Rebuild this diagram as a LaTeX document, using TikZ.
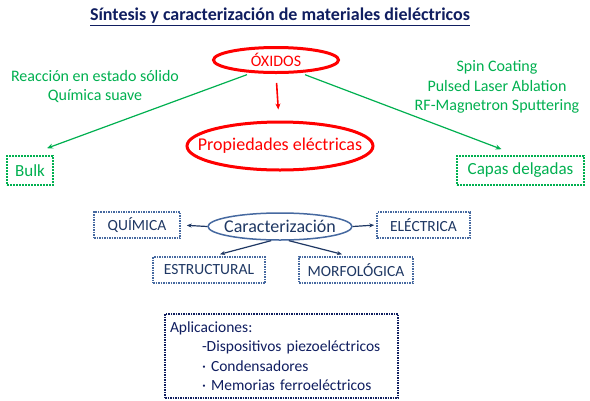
\documentclass[tikz,border=0pt]{standalone}
\usepackage{fontspec}
\setmainfont{Carlito}
\definecolor{titlenavy}{RGB}{16,30,96}
\definecolor{oxgreen}{RGB}{0,176,80}
\definecolor{oxred}{RGB}{255,0,0}
\definecolor{steelnavy}{RGB}{31,56,100}
\definecolor{frameblue}{RGB}{70,105,160}
\usetikzlibrary{shapes.geometric, arrows.meta, positioning}
\tikzset{
  redoval/.style={ellipse, draw=oxred, line width=3pt, text=oxred, inner sep=0pt},
  greenbox/.style={rectangle, draw=oxgreen, line width=1.6pt, dash pattern=on 2pt off 1pt,
    text=oxgreen, font=\fontsize{17}{20}\selectfont, minimum height=29pt, inner sep=0pt},
  techbox/.style={rectangle, draw=frameblue, line width=1.5pt, densely dotted,
    text=steelnavy, font=\fontsize{15.5}{18}\selectfont, minimum height=26pt, inner sep=0pt},
  method/.style={text=oxgreen, font=\fontsize{16}{19.5}\selectfont, align=center},
  greenarrow/.style={-{Stealth[length=6pt,width=5pt]}, line width=1.2pt, color=oxgreen},
  navyarrow/.style={-{Stealth[length=5pt,width=4pt]}, line width=1.2pt, color=steelnavy},
}

\begin{document}
\begin{tikzpicture}[x=1pt, y=-1pt]

\useasboundingbox[fill=white] (0,0) rectangle (590,400);

\node[text=titlenavy, font=\fontsize{18}{21}\selectfont\bfseries] (title) at (280,17)
  {\underline{Síntesis y caracterización de materiales dieléctricos}};

% sintesis
\node[redoval, minimum width=125pt, minimum height=25pt, font=\fontsize{16}{19}\selectfont] (oxidos) at (276,60) {ÓXIDOS};
\node[redoval, minimum width=186pt, minimum height=48pt, font=\fontsize{18}{21}\selectfont] (prop) at (280,146)
  {\makebox[0pt]{Propiedades eléctricas}};

\node[method] (ceramic) at (95,86.5) {Reacción en estado sólido\\Química suave};
\node[method] (thinfilm) at (497,87) {Spin Coating\\Pulsed Laser Ablation\\RF-Magnetron Sputtering};

\node[greenbox, minimum width=46pt] (bulk) at (30,170.5) {Bulk};
\node[greenbox, minimum width=127pt] (capas) at (520.5,170.5) {Capas delgadas};

\draw[greenarrow, shorten <=5pt] (oxidos.208) -- ([xshift=17pt,yshift=7pt]bulk.north);
\draw[greenarrow, shorten <=5pt] (oxidos.332) -- ([xshift=-19pt,yshift=6pt]capas.north);
\draw[-{Stealth[length=6pt,width=5pt]}, line width=1.6pt, oxred, shorten <=9pt, shorten >=11pt]
  (oxidos.south) -- ([xshift=-1pt]prop.north);

% caracterizacion
\node[ellipse, draw=frameblue, line width=1.5pt, text=steelnavy, inner sep=0pt,
  minimum width=144pt, minimum height=27pt, font=\fontsize{18}{21}\selectfont] (caract) at (280,226.5)
  {\makebox[0pt]{Caracterización}};

\node[techbox, minimum width=86pt]  (quim)  at (137,225)   {QUÍMICA};
\node[techbox, minimum width=93pt]  (elec)  at (423.5,225) {ELÉCTRICA};
\node[techbox, minimum width=112pt] (estr)  at (209,270)   {ESTRUCTURAL};
\node[techbox, minimum width=114pt] (morf)  at (356,270)   {MORFOLÓGICA};

\draw[navyarrow, shorten >=6pt] (caract.west) -- (quim.east);
\draw[navyarrow, shorten >=2pt] (caract.east) -- (elec.west);
\draw[navyarrow] (caract.238) -- ([xshift=11pt,yshift=2pt]estr.north);
\draw[navyarrow] (caract.302) -- ([xshift=-14pt,yshift=2pt]morf.north);

% aplicaciones
\node[rectangle, draw=titlenavy, line width=1.5pt, densely dotted, text=titlenavy,
  minimum width=233pt, minimum height=84pt, text width=223pt, align=left, inner sep=0pt,
  font=\fontsize{15.5}{19.5}\selectfont] (aplic) at (281.5,356)
  {Aplicaciones:\\
   \hspace*{32pt}-Dispositivos piezoeléctricos\\
   \hspace*{32pt}· Condensadores\\
   \hspace*{32pt}· Memorias ferroeléctricos};

\end{tikzpicture}
\end{document}
